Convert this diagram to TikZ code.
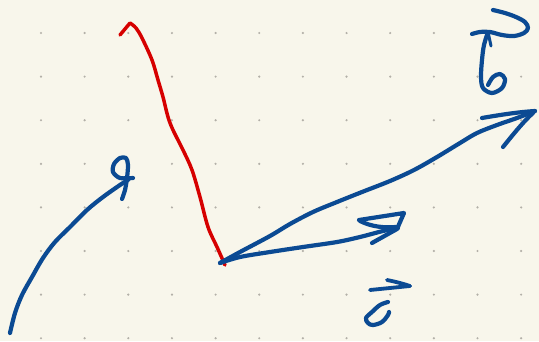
\documentclass[tikz,border=0pt]{standalone}
\definecolor{paper}{HTML}{F8F6EB}
\definecolor{dotc}{HTML}{B3B0A8}
\definecolor{ink}{HTML}{0B4A93}
\definecolor{redink}{HTML}{D60000}
\begin{document}
\begin{tikzpicture}[x=1pt,y=-1pt,
  inkstroke/.style={draw=ink, line width=4.2pt, line cap=round, line join=round},
  redstroke/.style={draw=redink, line width=3.5pt, line cap=round, line join=round}]
\fill[paper] (0,0) rectangle (539,341);
\useasboundingbox (0,0) rectangle (539,341);
% dot grid
\foreach \i in {0,...,11}{
  \foreach \j in {0,...,7}{
    \fill[dotc] ({41+43.65*\i},{33+43.6*\j}) circle (1.2pt);
  }
}
% named points
\coordinate (O) at (220,263);
\coordinate (tipb) at (535,111);
\coordinate (tipc) at (404,213);
\coordinate (tipa) at (128,180);
% red stroke
\draw[redstroke] (120,35) -- (130,23)
  plot[smooth, tension=0.55] coordinates {(130,23) (136,28) (142,38) (152,60) (158,80) (163,97) (168,117) (173,130) (183,150) (192,170) (200,197) (208,227) (217,247) (225,265)};
% vector a
\draw[inkstroke] plot[smooth, tension=0.55] coordinates {(10,333) (15,313) (22,295) (32,277) (43,258) (55,242) (70,227) (87,210) (103,197) (120,185) (tipa)};
\draw[inkstroke] plot[smooth, tension=0.5] coordinates {(133,178) (120,178) (113,172) (114,164) (120,158) (126,158) (128,165) (127,178) (125,190) (122,199)};
% vector b
\draw[inkstroke] plot[smooth, tension=0.55] coordinates {(O) (240,252) (270,236) (290,224) (313,212) (337,202) (362,192) (390,181) (414,170) (437,157) (460,143) (477,133) (497,125) (517,118) (tipb)};
\draw[inkstroke] (482,118) .. controls (505,114) and (520,112) .. (tipb);
\draw[inkstroke] (503,147) .. controls (515,132) and (525,120) .. (533,113);
% vector c
\draw[inkstroke] plot[smooth, tension=0.55] coordinates {(O) (240,257) (270,252) (303,247) (337,242) (360,237) (383,231) (398,228)};
\draw[inkstroke] (359,220) -- (tipc) -- (397,229) -- (372,243);
\draw[inkstroke] (360,221) .. controls (372,227) and (385,228) .. (396,227);
% label b
\draw[inkstroke] plot[smooth, tension=0.55] coordinates {(493,10) (505,13) (516,17) (525,22) (528,28) (524,33) (514,36) (502,35) (490,32) (480,32) (472,34)};
\draw[inkstroke] plot[smooth, tension=0.55] coordinates {(488,32) (484,45) (482,60) (481,77) (483,88) (492,93) (502,88) (505,79) (500,74) (493,77) (488,85)};
\draw[inkstroke, line width=3pt] (486,38) -- (488,32) -- (491,46);
% label c
\draw[inkstroke, line width=3.8pt] plot[smooth, tension=0.5] coordinates {(370,290) (390,288) (410,286)};
\draw[inkstroke, line width=3.8pt] (387,280) .. controls (397,282) and (404,284) .. (410,286);
\draw[inkstroke] plot[smooth, tension=0.6] coordinates {(388,302) (380,305) (372,312) (366,318) (368,323) (373,325) (382,322) (388,315) (389,312)};
\end{tikzpicture}
\end{document}
